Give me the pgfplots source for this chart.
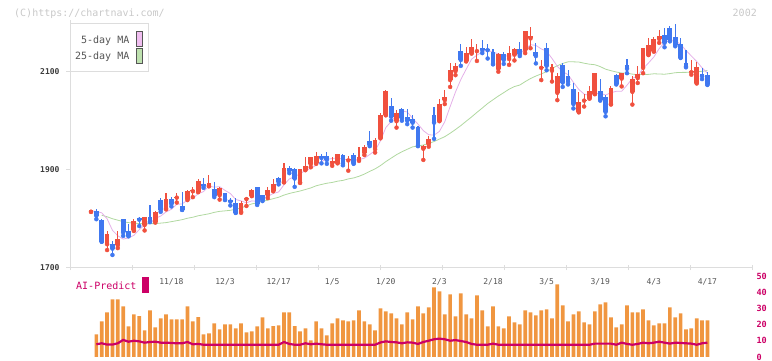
\documentclass[border=0pt]{standalone}
\usepackage{pgfplots}
\pgfplotsset{compat=1.18}
\usepackage{pgfplotstable}
\usepackage{fontspec}
\setmainfont{DejaVu Sans}
\setmonofont{DejaVu Sans Mono}
\definecolor{cred}{RGB}{240,80,62}
\definecolor{cblue}{RGB}{64,120,240}
\definecolor{cpink}{RGB}{228,176,232}
\definecolor{cgreen}{RGB}{176,216,160}
\definecolor{lpink}{RGB}{240,190,240}
\definecolor{lgreen}{RGB}{190,225,175}
\definecolor{corange}{RGB}{240,150,64}
\definecolor{cmag}{RGB}{204,0,102}
\definecolor{caxis}{RGB}{221,221,221}
\definecolor{ctext}{RGB}{85,85,85}
\definecolor{ctick}{RGB}{60,60,60}
\definecolor{chead}{RGB}{200,200,200}

\pgfplotstableread[row sep=\\]{
i O H L C\\
0 1814 1816 1814 1816\\
3 1748 1774 1736 1769\\
5 1746 1775 1740 1759\\
8 1776 1799 1775 1795\\
10 1787 1804 1776 1803\\
12 1794 1815 1792 1814\\
14 1821 1852 1819 1840\\
16 1843 1852 1833 1845\\
18 1840 1859 1838 1857\\
19 1856 1865 1844 1858\\
20 1855 1881 1854 1877\\
22 1867 1889 1866 1873\\
24 1848 1864 1839 1863\\
28 1814 1837 1812 1833\\
29 1840 1845 1826 1843\\
30 1847 1860 1846 1859\\
33 1848 1864 1842 1859\\
34 1857 1882 1856 1871\\
36 1875 1914 1874 1903\\
39 1874 1902 1873 1901\\
40 1900 1925 1899 1908\\
41 1911 1926 1905 1925\\
42 1914 1937 1912 1928\\
45 1913 1925 1908 1917\\
46 1914 1933 1913 1932\\
48 1919 1928 1898 1921\\
50 1920 1946 1918 1925\\
51 1935 1950 1930 1946\\
53 1942 1964 1935 1961\\
54 1965 2016 1964 2012\\
55 2012 2062 2011 2061\\
57 1999 2021 1986 2015\\
62 1943 1950 1920 1948\\
63 1952 1969 1947 1963\\
65 2000 2044 1999 2034\\
66 2042 2063 2034 2048\\
67 2083 2118 2069 2103\\
68 2101 2118 2093 2112\\
70 2122 2150 2121 2139\\
71 2138 2167 2137 2150\\
72 2142 2157 2122 2144\\
76 2106 2138 2100 2136\\
78 2126 2152 2114 2139\\
79 2135 2148 2123 2146\\
81 2144 2184 2138 2183\\
82 2168 2192 2148 2172\\
84 2108 2124 2083 2110\\
86 2102 2116 2080 2110\\
87 2057 2097 2042 2091\\
91 2018 2059 2017 2038\\
92 2041 2055 2029 2043\\
93 2046 2070 2045 2061\\
94 2055 2098 2054 2097\\
97 2034 2070 2033 2067\\
99 2086 2098 2070 2097\\
101 2059 2091 2033 2086\\
102 2087 2111 2077 2095\\
103 2108 2149 2097 2148\\
104 2135 2169 2134 2154\\
105 2142 2171 2141 2167\\
106 2167 2186 2159 2172\\
112 2099 2123 2094 2102\\
113 2077 2120 2076 2109\\
}\upT

\pgfplotstableread[row sep=\\]{
i O H L C\\
1 1816 1819 1799 1806\\
2 1797 1800 1753 1753\\
4 1748 1755 1726 1739\\
6 1799 1800 1765 1772\\
7 1774 1790 1764 1765\\
9 1802 1804 1785 1798\\
11 1803 1828 1793 1794\\
13 1839 1842 1814 1818\\
15 1840 1844 1825 1830\\
17 1825 1855 1818 1818\\
21 1871 1884 1863 1867\\
23 1861 1874 1844 1847\\
25 1852 1853 1838 1839\\
26 1839 1843 1827 1835\\
27 1833 1842 1812 1812\\
31 1864 1864 1828 1830\\
32 1848 1849 1836 1838\\
35 1884 1885 1870 1875\\
37 1903 1908 1893 1898\\
38 1901 1903 1865 1882\\
43 1928 1932 1913 1924\\
44 1929 1937 1912 1920\\
47 1930 1933 1909 1913\\
49 1930 1935 1912 1913\\
52 1959 1978 1948 1950\\
56 2030 2046 2000 2008\\
58 2024 2025 2000 2005\\
59 2008 2023 1993 2000\\
60 2003 2012 1986 1996\\
61 1988 1990 1948 1950\\
64 2012 2027 1963 1996\\
69 2142 2157 2112 2124\\
73 2148 2165 2138 2144\\
74 2147 2157 2127 2144\\
75 2141 2146 2115 2116\\
77 2136 2140 2116 2124\\
80 2146 2161 2132 2136\\
83 2140 2158 2117 2132\\
85 2148 2158 2103 2112\\
88 2114 2118 2069 2078\\
89 2092 2104 2074 2079\\
90 2065 2077 2025 2034\\
95 2061 2085 2041 2043\\
96 2048 2052 2009 2018\\
98 2094 2095 2074 2075\\
100 2114 2125 2097 2106\\
107 2174 2189 2150 2159\\
108 2189 2193 2162 2165\\
109 2171 2197 2152 2154\\
110 2157 2169 2128 2129\\
111 2118 2145 2109 2111\\
114 2095 2108 2085 2091\\
115 2094 2099 2073 2074\\
}\downT

\pgfplotstableread[row sep=\\]{
i v\\
0 1816\\ 1 1815\\ 2 1812\\ 3 1800\\ 4 1776.4\\ 5 1765.2\\ 6 1758.4\\ 7 1760.8\\ 8 1766\\ 9 1777.8\\
10 1786.6\\ 11 1791\\ 12 1800.8\\ 13 1805.4\\ 14 1813.8\\ 15 1819.2\\ 16 1829.4\\ 17 1830.2\\ 18 1838\\ 19 1841.6\\
20 1851\\ 21 1855.4\\ 22 1866.4\\ 23 1864.4\\ 24 1865.4\\ 25 1857.8\\ 26 1851.4\\ 27 1839.2\\ 28 1836.4\\ 29 1832.4\\
30 1836.4\\ 31 1835.4\\ 32 1840.6\\ 33 1845.8\\ 34 1851.4\\ 35 1854.6\\ 36 1869.2\\ 37 1881.2\\ 38 1885.8\\ 39 1891.8\\
40 1898.4\\ 41 1902.8\\ 42 1908.8\\ 43 1917.2\\ 44 1921\\ 45 1922.8\\ 46 1924.2\\ 47 1921.2\\ 48 1920.6\\ 49 1919.2\\
50 1920.8\\ 51 1923.6\\ 52 1931\\ 53 1939\\ 54 1958.8\\ 55 1986\\ 56 1998.4\\ 57 2011.4\\ 58 2020.2\\ 59 2017.8\\
60 2004.8\\ 61 1993.2\\ 62 1979.8\\ 63 1971.4\\ 64 1970.6\\ 65 1978.2\\ 66 1997.8\\ 67 2028.8\\ 68 2058.6\\ 69 2084.2\\
70 2105.2\\ 71 2125.6\\ 72 2133.8\\ 73 2140.2\\ 74 2144.2\\ 75 2139.6\\ 76 2136.8\\ 77 2132.8\\ 78 2131.8\\ 79 2132.2\\
80 2136.2\\ 81 2145.6\\ 82 2155.2\\ 83 2153.8\\ 84 2146.6\\ 85 2141.8\\ 86 2127.2\\ 87 2111\\ 88 2100.2\\ 89 2094\\
90 2078.4\\ 91 2064\\ 92 2054.4\\ 93 2051\\ 94 2054.6\\ 95 2056.4\\ 96 2052.4\\ 97 2057.2\\ 98 2060\\ 99 2060\\
100 2072.6\\ 101 2086.2\\ 102 2091.8\\ 103 2106.4\\ 104 2117.8\\ 105 2130\\ 106 2147.2\\ 107 2160\\ 108 2163.4\\ 109 2163.4\\
110 2155.8\\ 111 2143.6\\ 112 2132.2\\ 113 2121\\ 114 2108\\ 115 2097\\
}\maFive

\pgfplotstableread[row sep=\\]{
i v\\
2 1807\\ 3 1804\\ 4 1800\\ 5 1797\\ 6 1794\\ 7 1792\\ 8 1791\\ 9 1790\\
10 1790\\ 11 1790\\ 12 1790\\ 13 1791\\ 14 1792\\ 15 1794\\ 16 1796\\ 17 1798\\ 18 1801\\ 19 1803\\
20 1806\\ 21 1808\\ 22 1810\\ 23 1813\\ 24 1815\\ 25 1816\\ 26 1817.1\\ 27 1819.5\\ 28 1822\\ 29 1826.2\\
30 1830.2\\ 31 1832.5\\ 32 1835.4\\ 33 1838\\ 34 1840.9\\ 35 1843.8\\ 36 1848.2\\ 37 1851.5\\ 38 1854.1\\ 39 1856.5\\
40 1859.6\\ 41 1862.8\\ 42 1867.2\\ 43 1869.9\\ 44 1872.4\\ 45 1874\\ 46 1876.6\\ 47 1878.2\\ 48 1881.2\\ 49 1883.2\\
50 1886.6\\ 51 1891\\ 52 1896.6\\ 53 1901.7\\ 54 1908.4\\ 55 1916.5\\ 56 1923.6\\ 57 1930.7\\ 58 1936.6\\ 59 1941.7\\
60 1946.6\\ 61 1948.4\\ 62 1950.4\\ 63 1953.7\\ 64 1957.5\\ 65 1962.5\\ 66 1967.4\\ 67 1974.4\\ 68 1982\\ 69 1990.1\\
70 1999\\ 71 2007.7\\ 72 2017\\ 73 2025.9\\ 74 2035.1\\ 75 2042.8\\ 76 2050.4\\ 77 2057.3\\ 78 2064.4\\ 79 2069.8\\
80 2072.8\\ 81 2079.8\\ 82 2086.1\\ 83 2091.2\\ 84 2095.6\\ 85 2100.2\\ 86 2106.6\\ 87 2112.3\\ 88 2116.9\\ 89 2120.2\\
90 2120.2\\ 91 2119.8\\ 92 2117.4\\ 93 2115.4\\ 94 2114.3\\ 95 2110.5\\ 96 2105.2\\ 97 2102.1\\ 98 2099.4\\ 99 2097.5\\
100 2097.1\\ 101 2095.1\\ 102 2093.9\\ 103 2094.3\\ 104 2094.6\\ 105 2095.8\\ 106 2095.4\\ 107 2094.9\\ 108 2096.2\\ 109 2098\\
110 2098.6\\ 111 2098.7\\ 112 2099.1\\ 113 2100.4\\ 114 2100.8\\ 115 2102.4\\
}\maTwentyFive

\pgfplotstableread[row sep=\\]{
i b a\\
1 14.0 7.9\\ 2 22.1 8.5\\ 3 27.7 7.7\\ 4 35.7 7.7\\ 5 35.7 8.5\\ 6 31.4 10.6\\ 7 19.0 9.5\\ 8 26.4 10.1\\ 9 25.4 9.7\\ 10 16.5 8.9\\
11 28.9 9.3\\ 12 18.4 9.5\\ 13 24.0 8.9\\ 14 26.4 8.9\\ 15 23.3 8.7\\ 16 23.3 8.5\\ 17 23.3 8.5\\ 18 31.4 9.3\\ 19 22.1 7.9\\ 20 24.8 8.1\\
21 14.0 7.6\\ 22 14.7 7.6\\ 23 20.9 7.6\\ 24 17.1 7.6\\ 25 20.2 7.6\\ 26 20.2 7.6\\ 27 17.8 7.6\\ 28 20.9 7.6\\ 29 15.3 7.6\\ 30 15.9 7.6\\
31 19.0 7.6\\ 32 24.6 7.6\\ 33 17.8 7.6\\ 34 19.2 7.6\\ 35 19.6 7.6\\ 36 27.7 9.3\\ 37 27.7 8.1\\ 38 19.2 7.6\\ 39 15.9 7.6\\ 40 17.8 8.5\\
41 10.3 7.9\\ 42 22.1 8.3\\ 43 17.8 7.9\\ 44 13.4 7.6\\ 45 20.9 7.6\\ 46 24.0 7.6\\ 47 22.7 7.6\\ 48 22.1 7.6\\ 49 22.7 7.6\\ 50 28.9 7.6\\
51 22.1 7.6\\ 52 20.2 7.6\\ 53 16.5 7.6\\ 54 30.2 9.0\\ 55 28.3 9.7\\ 56 27.1 9.3\\ 57 24.0 9.1\\ 58 20.2 8.5\\ 59 27.7 9.1\\ 60 23.3 8.9\\
61 31.4 8.1\\ 62 27.1 9.3\\ 63 30.8 10.1\\ 64 43.2 11.0\\ 65 40.7 11.4\\ 66 26.4 11.0\\ 67 38.8 10.1\\ 68 25.2 10.5\\ 69 39.5 9.9\\ 70 26.4 9.3\\
71 24.0 8.1\\ 72 38.2 7.6\\ 73 28.9 7.6\\ 74 19.0 7.6\\ 75 31.4 8.3\\ 76 19.0 7.6\\ 77 17.8 7.6\\ 78 25.2 7.6\\ 79 21.5 7.6\\ 80 20.2 7.6\\
81 28.9 7.6\\ 82 27.7 7.6\\ 83 25.8 7.6\\ 84 28.9 7.6\\ 85 29.5 7.6\\ 86 24.0 7.6\\ 87 45.0 7.6\\ 88 32.0 7.6\\ 89 22.1 7.6\\ 90 26.4 7.6\\
91 28.3 7.6\\ 92 21.5 7.6\\ 93 20.2 7.6\\ 94 28.3 8.3\\ 95 32.6 8.3\\ 96 33.9 8.3\\ 97 24.6 8.3\\ 98 18.4 7.6\\ 99 20.2 8.9\\ 100 32.0 8.1\\
101 27.7 7.6\\ 102 27.7 8.1\\ 103 29.5 8.9\\ 104 22.7 8.5\\ 105 19.6 8.9\\ 106 20.9 9.5\\ 107 20.9 8.9\\ 108 30.8 8.3\\ 109 24.6 8.9\\ 110 27.1 8.7\\
111 17.1 8.5\\ 112 17.8 8.3\\ 113 24.0 7.6\\ 114 22.7 8.5\\ 115 22.7 8.9\\
}\botT

\newcommand{\mono}[1]{\ttfamily\fontsize{#1}{#1}\selectfont}

\begin{document}
\begin{tikzpicture}[x=1pt,y=1pt]
\begin{axis}[
  at={(71pt,93.3pt)}, anchor=south west,
  scale only axis, width=681pt, height=247.7pt,
  xmin=-3.731, xmax=123.319, ymin=1700, ymax=2205.6,
  axis x line*=bottom, axis y line*=left,
  axis line style={draw=caxis, line width=1pt},
  tick style={draw=caxis, line width=1pt},
  major tick length=5pt,
  xtick={-3.731,7.819,19.369,30.919,42.469,54.019,65.569,77.119,88.669,100.219,111.769,123.319},
  xticklabels={},
  xtick align=center,
  ytick={1700,1900,2100}, yticklabels={1700,1900,2100},
  ytick align=outside,
  yticklabel style={font=\mono{8}\bfseries, text=ctick, xshift=-3pt},
  extra x ticks={15,25,35,45,55,65,75,85,95,105,115},
  extra x tick labels={11/18,12/3,12/17,1/5,1/20,2/3,2/18,3/5,3/19,4/3,4/17},
  extra x tick style={major tick length=0pt, xticklabel style={font=\mono{8}, text=ctext, yshift=-7pt}},
]
\addplot[cgreen, line width=0.8pt] table[x=i,y=v]{\maTwentyFive};
\addplot[cpink, line width=0.8pt] table[x=i,y=v]{\maFive};
% wicks
\addplot[cred, only marks, mark=none, error bars/.cd, y dir=plus, y explicit, error mark=none,
  error bar style={line width=1.1pt, draw=cred}]
  table[x=i, y=L, y error plus expr=\thisrow{H}-\thisrow{L}]{\upT};
\addplot[cblue, only marks, mark=none, error bars/.cd, y dir=plus, y explicit, error mark=none,
  error bar style={line width=1.1pt, draw=cblue}]
  table[x=i, y=L, y error plus expr=\thisrow{H}-\thisrow{L}]{\downT};
% bodies
\addplot[cred, only marks, mark=none, error bars/.cd, y dir=plus, y explicit, error mark=none,
  error bar style={line width=4.8pt, draw=cred}]
  table[x=i, y=O, y error plus expr=\thisrow{C}-\thisrow{O}]{\upT};
\addplot[cblue, only marks, mark=none, error bars/.cd, y dir=plus, y explicit, error mark=none,
  error bar style={line width=4.8pt, draw=cblue}]
  table[x=i, y=C, y error plus expr=\thisrow{O}-\thisrow{C}]{\downT};
\end{axis}

\begin{axis}[
  at={(71pt,4pt)}, anchor=south west,
  scale only axis, width=681pt, height=80.6pt,
  xmin=-3.731, xmax=123.319, ymin=0, ymax=50,
  axis x line=none, axis y line*=right,
  y axis line style={draw=none},
  major tick length=0pt,
  ytick={0,10,20,30,40,50}, yticklabels={0,10,20,30,40,50},
  y tick style={draw=none},
  yticklabel style={font=\mono{8.5}\bfseries, text=cmag, anchor=west, xshift=1pt},
  clip=false,
]
\addplot[ybar, bar width=3.7pt, bar shift=0pt, fill=corange, draw=none] table[x=i,y=b]{\botT};
\addplot[cmag, line width=2.2pt] table[x=i,y=a]{\botT};
\end{axis}

\node[anchor=west, inner sep=0, text=chead, font=\mono{10}, text height=7.3pt, text depth=0pt] at (14,348.5) {(C)https://chartnavi.com/};
\node[anchor=east, inner sep=0, text=chead, font=\mono{10}, text height=7.3pt, text depth=0pt] at (757,348.5) {2002};

\draw[caxis, fill=white, line width=1pt] (70.7,289.3) rectangle (148,337);
\node[anchor=east, inner sep=0, text=ctext, font=\mono{10}, text height=7.3pt, text depth=0pt] at (129.5,321) {5-day MA};
\node[anchor=east, inner sep=0, text=ctext, font=\mono{10}, text height=7.3pt, text depth=0pt] at (129.5,305.5) {25-day MA};
\draw[fill=lpink, draw=ctext, line width=0.8pt] (136,314.3) rectangle (142.7,330);
\draw[fill=lgreen, draw=ctext, line width=0.8pt] (136,297.7) rectangle (142.7,312.7);

\node[anchor=west, inner sep=0, text=cmag, font=\mono{10}, text height=7.3pt, text depth=0pt] at (76,75.5) {AI-Predict};
\fill[cmag] (142.3,68.3) rectangle (148.7,84.3);

\pgfresetboundingbox
\useasboundingbox (0,0) rectangle (772,361);
\end{tikzpicture}
\end{document}
